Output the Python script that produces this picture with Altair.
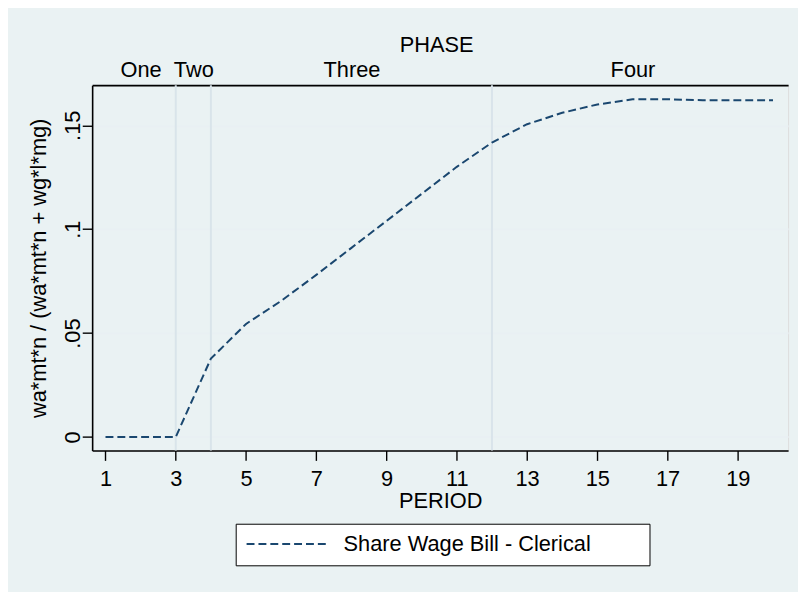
import altair as alt
import pandas as pd

# Data
periods = list(range(1, 21))
share_clerical = [0.0, 0.0, 0.0, 0.0377, 0.0544, 0.0655, 0.078, 0.091, 0.104, 0.117,
                  0.130, 0.1417, 0.1505, 0.156, 0.160, 0.1625, 0.1625, 0.1621, 0.1621, 0.1621]
series_name = "Share Wage Bill - Clerical"

phase_breaks = [3, 4, 12]
phase_names = ["One", "Two", "Three", "Four"]
phase_label_pos = [2, 3.5, 8, 16]

x_ticks = [1, 3, 5, 7, 9, 11, 13, 15, 17, 19]
y_ticks = [0, 0.05, 0.1, 0.15]

FONT = "Liberation Sans"
FS = 22

df = pd.DataFrame({"period": periods, "share": share_clerical, "series": series_name})
df_lines = pd.DataFrame({"xline": phase_breaks})

x_scale = alt.Scale(domain=[0.62, 20.43], nice=False, zero=False)
y_scale = alt.Scale(domain=[-0.0065, 0.1693], nice=False, zero=False)

phase_expr = " : ".join(
    f"datum.value == {p} ? '{n}'" for p, n in zip(phase_label_pos[:-1], phase_names[:-1])
) + f" : '{phase_names[-1]}'"

# trailing blank room inside the legend frame (Stata draws a wider key box)
legend_pad_expr = "datum.label + '\u00a0\u00a0\u00a0\u00a0\u00a0\u00a0\u00a0\u00a0\u200b'"

rules = alt.Chart(df_lines).mark_rule(color="#d9e4ea", strokeWidth=2).encode(
    x=alt.X("xline:Q", scale=x_scale,
            axis=alt.Axis(orient="top", values=phase_label_pos, labelExpr=phase_expr,
                          ticks=False, tickSize=0, labelPadding=9, labelBaseline="alphabetic",
                          labelAlign="center", labelOverlap=False, labelFlush=False,
                          labelFontSize=FS, labelFont=FONT, labelColor="black",
                          domainColor="black", domainWidth=1.7, grid=False,
                          title="PHASE", titleFontSize=FS, titleFont=FONT,
                          titleFontWeight="normal", titleColor="black",
                          titleX=347.5, titleY=-34, titleAlign="center",
                          titleBaseline="alphabetic"))
)

line = alt.Chart(df).mark_line(strokeWidth=2, strokeDash=[8, 4]).encode(
    x=alt.X("period:Q", scale=x_scale,
            axis=alt.Axis(orient="bottom", values=x_ticks, format="d", grid=False,
                          tickSize=10, tickWidth=1.4, tickColor="black",
                          labelPadding=25, labelBaseline="alphabetic", labelAlign="center",
                          labelFlush=False, labelOverlap=False,
                          labelFontSize=FS, labelFont=FONT, labelColor="black",
                          domainColor="black", domainWidth=1.6,
                          title="PERIOD", titleFontSize=FS, titleFont=FONT,
                          titleFontWeight="normal", titleColor="black",
                          titleX=351.5, titleY=58, titleAlign="center",
                          titleBaseline="alphabetic")),
    y=alt.Y("share:Q", scale=y_scale,
            axis=alt.Axis(values=y_ticks,
                          labelExpr="datum.value == 0 ? '0' : replace(format(datum.value, '.2~f'), '0.', '.')",
                          grid=True, gridColor="#e9f0f3", gridWidth=2,
                          tickSize=10, tickWidth=1.4, tickColor="black",
                          labelAngle=270, labelAlign="center", labelBaseline="alphabetic",
                          labelPadding=3, labelFontSize=FS, labelFont=FONT, labelColor="black",
                          labelFlush=False, labelOverlap=False,
                          domainColor="black", domainWidth=1.6,
                          title="wa*mt*n / (wa*mt*n + wg*l*mg)", titleFontSize=FS,
                          titleFont=FONT, titleFontWeight="normal", titleColor="black",
                          titleAngle=270, titleX=-47, titleY=184.5, titleAlign="center",
                          titleBaseline="alphabetic")),
    color=alt.Color("series:N", scale=alt.Scale(range=["#1a476f"]),
                    legend=alt.Legend(orient="none", legendX=145, legendY=443, title=None,
                                      padding=10, fillColor="white", strokeColor="black",
                                      symbolType="stroke", symbolSize=6724, clipHeight=21,
                                      symbolStrokeWidth=2, symbolDash=[8, 4],
                                      labelFont=FONT, labelFontSize=FS, labelColor="black",
                                      labelOffset=15, labelLimit=600,
                                      labelExpr=legend_pad_expr)),
)

chart = alt.layer(rules, line).resolve_axis(x="independent").properties(
    width=703, height=369,
    padding={"left": 85, "top": 75, "right": 10, "bottom": 140},
    autosize=alt.AutoSizeParams(type="none"),
    background="#eaf2f3",
).configure_view(stroke="transparent", fill="white").configure(font=FONT)

chart.save("out.html", embed_options={"renderer": "svg", "actions": False})
